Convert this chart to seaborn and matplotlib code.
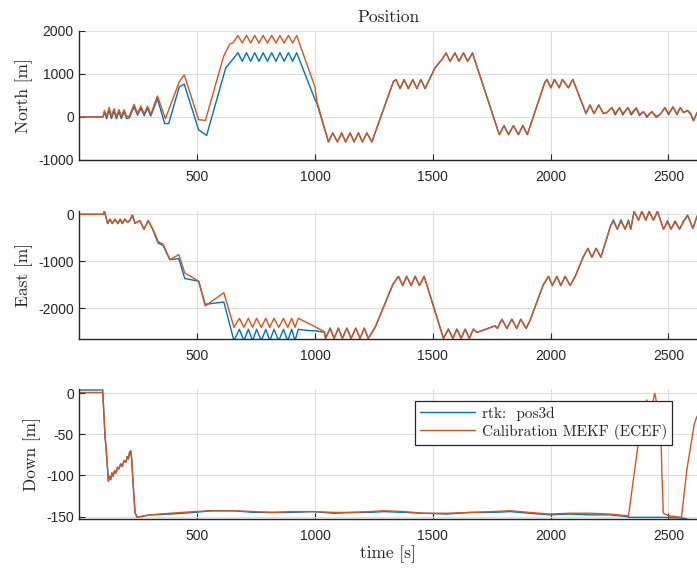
import matplotlib
matplotlib.use("Agg")
import matplotlib.pyplot as plt
from matplotlib.lines import Line2D
import pandas as pd
import seaborn as sns

# ---------------- data ----------------
LAB_B = "rtk:  pos3d"
LAB_O = "Calibration MEKF (ECEF)"

# North, early part (series differ)
north_t_early_o = [0, 100, 106, 116, 126, 136, 147, 157, 168, 178,
                   190, 200, 212, 232, 247, 261, 275, 289, 303, 331,
                   365, 424, 445, 506, 535, 612, 638, 652, 673, 691,
                   709, 727, 744, 762, 780, 798, 816, 834, 851, 869,
                   887, 905, 922, 1000, 1007]
north_early_o = [0, 0, 150, 10, 220, 10, 190, 10, 170, 10,
                 170, 10, 20, 290, 80, 250, 70, 250, 60, 485,
                 -40, 815, 975, -65, -80, 1407, 1690, 1717, 1890, 1715,
                 1890, 1715, 1890, 1715, 1890, 1715, 1890, 1715, 1890, 1715,
                 1890, 1715, 1890, 690, 380]
north_t_early_b = [0, 100, 106, 116, 126, 136, 147, 157, 168, 178,
                   190, 200, 212, 232, 247, 261, 275, 289, 303, 331,
                   362, 379, 424, 445, 506, 540, 621, 650, 673, 691,
                   709, 727, 744, 762, 780, 798, 816, 834, 851, 869,
                   887, 905, 922, 1000, 1007]
north_early_b = [0, 0, 100, -40, 160, -40, 130, -40, 120, -40,
                 120, -40, -20, 230, 40, 200, 30, 200, 20, 420,
                 -154, -154, 700, 760, -300, -430, 1137, 1330, 1490, 1290,
                 1490, 1290, 1490, 1290, 1490, 1290, 1490, 1290, 1490, 1290,
                 1490, 1290, 1490, 400, 330]
# North, later part (series nearly identical)
north_t_late = [1057, 1075, 1095, 1113, 1130, 1149, 1166, 1184, 1201, 1220,
                1241, 1333, 1344, 1361, 1378, 1396, 1415, 1432, 1449, 1467,
                1509, 1538, 1556, 1573, 1594, 1611, 1630, 1648, 1668, 1782,
                1802, 1821, 1842, 1863, 1882, 1901, 1975, 1984, 2001, 2016,
                2036, 2050, 2075, 2094, 2150, 2167, 2184, 2204, 2224, 2238,
                2260, 2274, 2292, 2306, 2328, 2342, 2363, 2377, 2394, 2408,
                2429, 2448, 2465, 2485, 2500, 2519, 2536, 2550, 2564, 2581,
                2595, 2606, 2621]
north_late_o = [-580, -371, -580, -371, -580, -371, -580, -371, -580, -371,
                -580, 826, 865, 657, 865, 657, 865, 657, 865, 657,
                1137, 1330, 1485, 1290, 1485, 1290, 1485, 1290, 1485, -411,
                -202, -411, -202, -411, -202, -411, 800, 870, 677, 870,
                677, 870, 677, 870, 77, 277, 77, 277, 77, 100,
                215, 77, 215, 77, 215, 77, 215, 60, 123, 15,
                123, 15, 60, 215, 77, 230, 77, 215, 100, 150,
                77, -90, 100]
north_late_b = [-580, -371, -580, -371, -580, -371, -580, -371, -580, -371,
                -580, 826, 865, 657, 865, 657, 865, 657, 865, 657,
                1137, 1330, 1485, 1290, 1485, 1290, 1485, 1290, 1485, -411,
                -202, -411, -202, -411, -202, -411, 800, 870, 677, 870,
                677, 870, 677, 870, 77, 277, 77, 277, 77, 100,
                215, 45, 215, 45, 215, 45, 200, 30, 123, -10,
                123, -10, 60, 215, 50, 230, 50, 215, 100, 150,
                50, -90, 100]

# East, early part
east_t_early = [0, 102, 106, 120, 130, 140, 151, 163, 173, 182,
                193, 205, 215, 225, 236, 257, 274, 292, 309, 320,
                334, 355, 384, 422, 447, 506, 534, 613, 656, 679,
                698, 717, 735, 752, 772, 791, 808, 826, 846, 866,
                884, 901, 915, 929, 979, 1005, 1040]
east_early_o = [0, 0, 77, -190, -99, -190, -99, -190, -99, -190,
                -99, -169, -120, -14, -190, -134, -317, -134, -296, -401,
                -577, -634, -965, -859, -1246, -1422, -1950, -1668, -2405, -2213,
                -2405, -2213, -2405, -2213, -2405, -2213, -2405, -2213, -2405, -2213,
                -2405, -2213, -2405, -2213, -2338, -2405, -2500]
east_early_b = [0, 0, 60, -200, -110, -200, -110, -200, -110, -200,
                -110, -175, -125, -20, -190, -134, -317, -134, -296, -436,
                -612, -662, -965, -943, -1366, -1422, -1915, -1866, -2690, -2447,
                -2690, -2447, -2690, -2447, -2690, -2447, -2690, -2447, -2690, -2447,
                -2690, -2447, -2690, -2447, -2478, -2480, -2510]
# East, later part
east_t_late = [1045, 1064, 1081, 1099, 1116, 1135, 1153, 1173, 1191, 1209,
               1226, 1255, 1330, 1354, 1372, 1389, 1408, 1425, 1443, 1463,
               1545, 1566, 1585, 1602, 1620, 1637, 1655, 1672, 1687, 1764,
               1774, 1793, 1814, 1835, 1856, 1873, 1896, 1913, 1969, 1991,
               2007, 2026, 2043, 2061, 2083, 2104, 2139, 2158, 2175, 2193,
               2213, 2254, 2266, 2283, 2298, 2316, 2330, 2340, 2354, 2373,
               2387, 2404, 2418, 2436, 2453, 2479, 2496, 2511, 2528, 2547,
               2564, 2581, 2604, 2621]
east_late_o = [-2640, -2422, -2640, -2422, -2640, -2422, -2640, -2422, -2640, -2422,
               -2640, -2408, -1495, -1320, -1516, -1320, -1516, -1320, -1516, -1320,
               -2640, -2443, -2640, -2443, -2640, -2443, -2640, -2443, -2513, -2373,
               -2429, -2232, -2429, -2232, -2429, -2232, -2429, -2250, -1495, -1320,
               -1516, -1320, -1516, -1320, -1516, -1320, -899, -723, -913, -723,
               -913, -250, -147, -316, -147, -316, -147, -316, 63, -126,
               63, -126, 63, -126, 63, -316, -161, -316, -161, -316,
               -161, -21, -300, -40]
east_late_b = [-2640, -2422, -2640, -2422, -2640, -2422, -2640, -2422, -2640, -2422,
               -2640, -2408, -1495, -1320, -1516, -1320, -1516, -1320, -1516, -1320,
               -2640, -2443, -2640, -2443, -2640, -2443, -2640, -2443, -2513, -2373,
               -2429, -2232, -2429, -2232, -2429, -2232, -2429, -2250, -1495, -1320,
               -1516, -1320, -1516, -1320, -1516, -1320, -899, -723, -913, -723,
               -913, -250, -120, -316, -120, -316, -120, -316, 63, -126,
               63, -126, 63, -126, 63, -316, -140, -316, -140, -316,
               -140, -21, -300, -40]

# Down
down_t_o = [0, 99, 109, 113, 123, 128, 133, 138, 143, 150,
            155, 162, 168, 175, 182, 190, 197, 203, 208, 213,
            218, 222, 228, 236, 245, 260, 300, 386, 487, 560,
            654, 740, 822, 900, 990, 1080, 1158, 1230, 1292, 1380,
            1460, 1560, 1661, 1750, 1829, 1910, 1997, 2080, 2165, 2250,
            2324, 2330, 2351, 2370, 2385, 2400, 2408, 2418, 2430, 2442,
            2455, 2465, 2472, 2478, 2500, 2555, 2578, 2609, 2621]
down_o = [1, 1, -53, -65, -107, -101, -105, -97, -101, -94,
          -97, -90, -92, -86, -89, -82, -84, -77, -80, -72,
          -70, -80, -110, -145, -151, -150, -148, -146, -144, -143,
          -143, -144, -145, -144, -144, -145, -145, -144, -143, -144,
          -146, -146, -145, -144, -143, -145, -147, -146, -146, -147,
          -149, -150, -105, -65, -55, -40, -8, -25, -15, 0,
          -20, -15, -98, -146, -149, -151, -93, -38, -28]
down_t_b = [0, 99, 109, 113, 123, 128, 133, 138, 143, 150,
            155, 162, 168, 175, 182, 190, 197, 203, 208, 213,
            218, 222, 228, 236, 245, 260, 300, 386, 487, 560,
            654, 740, 822, 900, 990, 1080, 1158, 1230, 1292, 1380,
            1460, 1560, 1661, 1750, 1829, 1910, 1997, 2080, 2165, 2250,
            2324, 2330, 2480, 2560, 2621]
down_b = [4, 4, -53, -65, -107, -101, -105, -97, -101, -94,
          -97, -90, -92, -86, -89, -82, -84, -77, -80, -72,
          -70, -80, -110, -145, -151, -150, -148, -147, -145, -143,
          -143, -145, -145, -145, -144, -146, -145, -145, -144, -145,
          -146, -147, -145, -145, -144, -146, -148, -147, -148, -148,
          -150, -151, -151, -152, -156]

x_ticks = [500, 1000, 1500, 2000, 2500]
north_ticks = [-1000, 0, 1000, 2000]
east_ticks = [-2000, -1000, 0]
down_ticks = [-150, -100, -50, 0]

# ---------------- style ----------------
sns.set_style("ticks")
plt.rcParams["font.family"] = ["Liberation Sans", "DejaVu Sans"]
plt.rcParams["axes.unicode_minus"] = False

BLUE = "#0072BD"
ORANGE = "#D95319"
DARK = "#262626"
SERIF = ["cmr10", "DejaVu Serif"]


def long_frame(tb, vb, to, vo):
    return pd.concat([
        pd.DataFrame({"t": tb, "v": vb, "series": LAB_B}),
        pd.DataFrame({"t": to, "v": vo, "series": LAB_O}),
    ], ignore_index=True)


df_n = long_frame(north_t_early_b + north_t_late, north_early_b + north_late_b,
                  north_t_early_o + north_t_late, north_early_o + north_late_o)
df_e = long_frame(east_t_early + east_t_late, east_early_b + east_late_b,
                  east_t_early + east_t_late, east_early_o + east_late_o)
df_d = long_frame(down_t_b, down_b, down_t_o, down_o)

fig = plt.figure(figsize=(6.97, 5.70), dpi=100)
ax1 = fig.add_axes([0.1139, 0.7193, 0.8861, 0.2268])
ax2 = fig.add_axes([0.1139, 0.4047, 0.8861, 0.2251])
ax3 = fig.add_axes([0.1139, 0.0895, 0.8861, 0.2277])

panels = [
    (ax1, df_n, "North [m]", north_ticks, (-1000, 2000)),
    (ax2, df_e, "East [m]", east_ticks, (-2660, 70)),
    (ax3, df_d, "Down [m]", down_ticks, (-153, 5)),
]

for ax, df, ylab, yt, ylim in panels:
    sns.lineplot(data=df, x="t", y="v", hue="series", hue_order=[LAB_B, LAB_O],
                 palette=[BLUE, ORANGE], estimator=None, sort=False,
                 linewidth=1.0, legend=False, ax=ax)
    ax.set_xlim(0, 2621)
    ax.set_ylim(*ylim)
    ax.set_xticks(x_ticks)
    ax.set_yticks(yt)
    ax.grid(True, color="#dedede", linewidth=0.8)
    ax.set_axisbelow(True)
    for s in ("top", "right"):
        ax.spines[s].set_visible(False)
    for s in ("left", "bottom"):
        ax.spines[s].set_color(DARK)
        ax.spines[s].set_linewidth(1.0)
    ax.tick_params(direction="in", length=4, width=0.8, colors=DARK, labelsize=10)
    ax.tick_params(axis="x", pad=7)
    ax.tick_params(axis="y", pad=4)
    ax.set_ylabel(ylab, fontfamily=SERIF, fontsize=12.5, color=DARK)
    ax.set_xlabel("")

ax1.set_title("Position", fontfamily=SERIF, fontsize=12.5, color=DARK, pad=6)
ax3.set_xlabel("time [s]", fontfamily=SERIF, fontsize=12.5, color=DARK, labelpad=2)

handles = [Line2D([], [], color=BLUE, lw=1.0), Line2D([], [], color=ORANGE, lw=1.0)]
leg = ax3.legend(handles, [LAB_B, LAB_O], loc="upper right", bbox_to_anchor=(0.96, 0.909),
                 borderaxespad=0, prop={"family": SERIF, "size": 11}, frameon=True,
                 fancybox=False, edgecolor=DARK, framealpha=1, handlelength=3.6,
                 handletextpad=0.4, labelspacing=0.2, borderpad=0.35)
leg.get_frame().set_linewidth(0.9)

fig.savefig("out.png", dpi=100)
